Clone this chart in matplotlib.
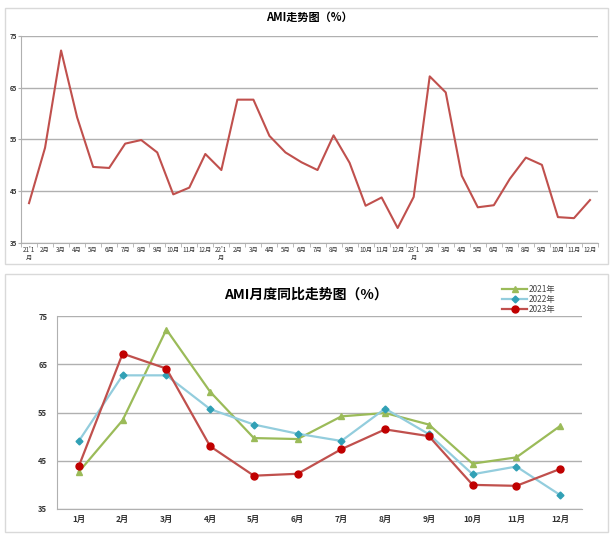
import matplotlib.pyplot as plt
from matplotlib.patches import Rectangle

plt.rcParams['font.family'] = ['Noto Sans CJK SC', 'DejaVu Sans']

months = ['1月', '2月', '3月', '4月', '5月', '6月', '7月', '8月', '9月', '10月', '11月', '12月']
y2021 = [42.7, 53.4, 72.2, 59.3, 49.7, 49.5, 54.2, 54.9, 52.5, 44.4, 45.7, 52.2]
y2022 = [49.1, 62.7, 62.7, 55.7, 52.5, 50.6, 49.1, 55.8, 50.5, 42.2, 43.8, 37.9]
y2023 = [43.9, 67.2, 64.1, 48.0, 41.9, 42.3, 47.4, 51.5, 50.1, 40.0, 39.8, 43.3]

all_vals = y2021 + y2022 + y2023
all_labels = []
for yr in ['21', '22', '23']:
    for i, m in enumerate(months):
        if i == 0:
            all_labels.append(yr + "'1\n月")
        else:
            all_labels.append(m)

fig = plt.figure(figsize=(6.13, 5.4), dpi=100)

# panel borders
for (x0, y0, x1, y1) in [(5, 8, 608, 264), (5, 274, 608, 532)]:
    fig.patches.append(Rectangle((x0 / 613, 1 - y1 / 540), (x1 - x0) / 613, (y1 - y0) / 540,
                                 transform=fig.transFigure, fill=False, ec='#d9d9d9', lw=1))

grid_c = '#b0b0b0'

# top chart
ax1 = fig.add_axes([21 / 613, 1 - 243 / 540, (598 - 21) / 613, (243 - 36) / 540])
x1 = list(range(len(all_vals)))
ax1.plot(x1, all_vals, color='#c0504d', lw=1.5)
ax1.set_xlim(-0.5, len(all_vals) - 0.5)
ax1.set_ylim(35, 75)
ax1.set_yticks([35, 45, 55, 65, 75])
ax1.set_xticks(x1)
ax1.set_xticklabels(all_labels, fontsize=4.5, color='#333333', linespacing=1.0, va='top')
ax1.set_xticks([i - 0.5 for i in range(len(all_vals) + 1)], minor=True)
ax1.tick_params(axis='x', which='major', length=0, pad=2)
ax1.tick_params(axis='x', which='minor', length=3, color=grid_c)
ax1.tick_params(axis='y', labelsize=4.5, length=2, color=grid_c, pad=1, labelcolor='#333333')
for lab in ax1.get_yticklabels():
    lab.set_fontweight('bold')
ax1.grid(axis='y', color=grid_c, lw=1)
ax1.set_axisbelow(True)
for s in ['top', 'right']:
    ax1.spines[s].set_visible(False)
ax1.spines['left'].set_color(grid_c)
ax1.spines['bottom'].set_color(grid_c)
ax1.set_title('AMI走势图（%）', fontsize=8, fontweight='bold', pad=11)

# bottom chart
ax2 = fig.add_axes([57 / 613, 1 - 509 / 540, (582 - 57) / 613, (509 - 316) / 540])
x2 = list(range(len(months)))
ax2.plot(x2, y2021, color='#9bbb59', lw=1.6, marker='^', ms=5, label='2021年')
ax2.plot(x2, y2022, color='#93cddd', lw=1.6, marker='D', ms=3.5, mfc='#31a0b5', mec='#31a0b5', label='2022年')
ax2.plot(x2, y2023, color='#c0504d', lw=1.6, marker='o', ms=5, mfc='#c00000', mec='#c00000', label='2023年')
ax2.set_xlim(-0.5, len(months) - 0.5)
ax2.set_ylim(35, 75)
ax2.set_yticks([35, 45, 55, 65, 75])
ax2.set_xticks(x2)
ax2.set_xticklabels(months, fontsize=6, fontweight='bold', color='#333333')
ax2.tick_params(axis='x', length=0, pad=4)
ax2.tick_params(axis='y', labelsize=5.5, length=0, pad=7, labelcolor='#333333')
for lab in ax2.get_yticklabels():
    lab.set_fontweight('bold')
ax2.grid(axis='y', color=grid_c, lw=1)
ax2.set_axisbelow(True)
for s in ['top', 'right']:
    ax2.spines[s].set_visible(False)
ax2.spines['left'].set_color(grid_c)
ax2.spines['bottom'].set_color(grid_c)
fig.text(306 / 613, 1 - 295 / 540, 'AMI月度同比走势图（%）', fontsize=10, fontweight='bold',
         ha='center', va='center')
ax2.legend(loc='upper left', bbox_to_anchor=(498 / 613, 1 - 281 / 540), bbox_transform=fig.transFigure,
           frameon=False, fontsize=6, handlelength=3, labelspacing=0.1, borderpad=0, handletextpad=0.2,
           labelcolor='#444444')

fig.savefig('out.png', dpi=100, facecolor='white')
